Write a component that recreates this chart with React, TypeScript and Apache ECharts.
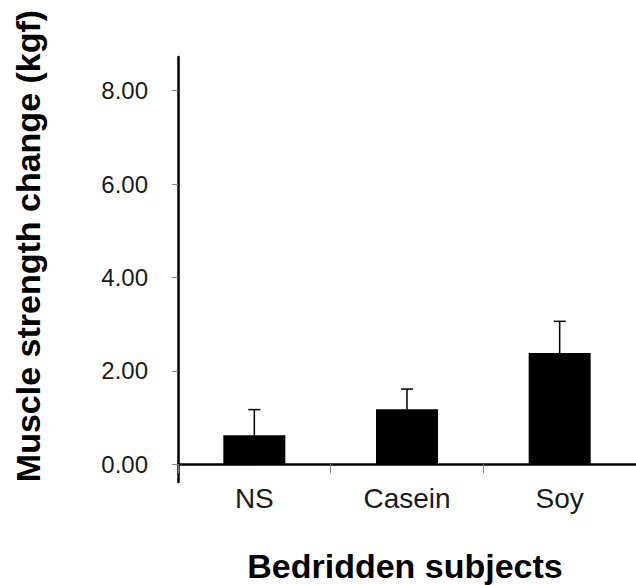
import React, { useEffect, useRef } from "react";
import * as echarts from "echarts";

const categories = ["NS", "Casein", "Soy"];
const means = [0.62, 1.18, 2.38];
const errors = [0.55, 0.43, 0.68];
const yTicks = [0, 2, 4, 6, 8];

const FONT = "'Liberation Sans', Arial, sans-serif";

export default function App() {
  const ref = useRef<HTMLDivElement>(null);
  useEffect(() => {
    if (!ref.current) return;
    const chart = echarts.init(ref.current, undefined, { renderer: "svg" });
    chart.setOption({
      animation: false,
      backgroundColor: "#ffffff",
      grid: { left: 178, right: 0, top: 57, bottom: 103 },
      xAxis: {
        type: "category",
        data: categories,
        axisLine: { onZero: true, lineStyle: { color: "#000", width: 2.5 } },
        axisTick: { show: true, length: 9, lineStyle: { color: "#888", width: 1 } },
        axisLabel: { margin: 2, color: "#1a1a1a", fontSize: 28, fontFamily: FONT },
      },
      yAxis: {
        type: "value",
        min: -0.38,
        max: 8.72,
        splitLine: { show: false },
        axisLine: { show: true, lineStyle: { color: "#000", width: 2.5 } },
        axisTick: { show: true, length: 6, customValues: yTicks, lineStyle: { color: "#888", width: 1 } },
        axisLabel: {
          customValues: yTicks,
          margin: 30,
          color: "#1a1a1a",
          fontSize: 24,
          fontFamily: FONT,
          formatter: (v: number) => v.toFixed(2),
        },
      },
      graphic: [
        {
          type: "text",
          x: 28,
          y: 246,
          rotation: Math.PI / 2,
          style: {
            text: "Muscle strength change (kgf)",
            font: `bold 34px ${FONT}`,
            fill: "#000",
            align: "center",
            verticalAlign: "middle",
          },
        },
        {
          type: "text",
          x: 405,
          y: 566,
          style: {
            text: "Bedridden subjects",
            font: `bold 34px ${FONT}`,
            fill: "#000",
            align: "center",
            verticalAlign: "middle",
          },
        },
      ],
      series: [
        {
          type: "bar",
          data: means,
          barWidth: 62,
          itemStyle: { color: "#000" },
        },
        {
          type: "custom",
          data: means.map((m, i) => [i, m, m + errors[i]]),
          renderItem: (params: any, api: any) => {
            const i = api.value(0);
            const base = api.coord([i, api.value(1)]);
            const top = api.coord([i, api.value(2)]);
            const hw = 6;
            const style = { stroke: "#000", lineWidth: 1.5 };
            return {
              type: "group",
              children: [
                { type: "line", shape: { x1: base[0], y1: base[1], x2: top[0], y2: top[1] }, style },
                { type: "line", shape: { x1: top[0] - hw, y1: top[1], x2: top[0] + hw, y2: top[1] }, style },
              ],
            };
          },
          z: 3,
        },
      ],
    });
    return () => chart.dispose();
  }, []);
  return (
    <div
      ref={ref}
      style={{ position: "fixed", left: 0, top: 0, width: 636, height: 585 }}
    />
  );
}
